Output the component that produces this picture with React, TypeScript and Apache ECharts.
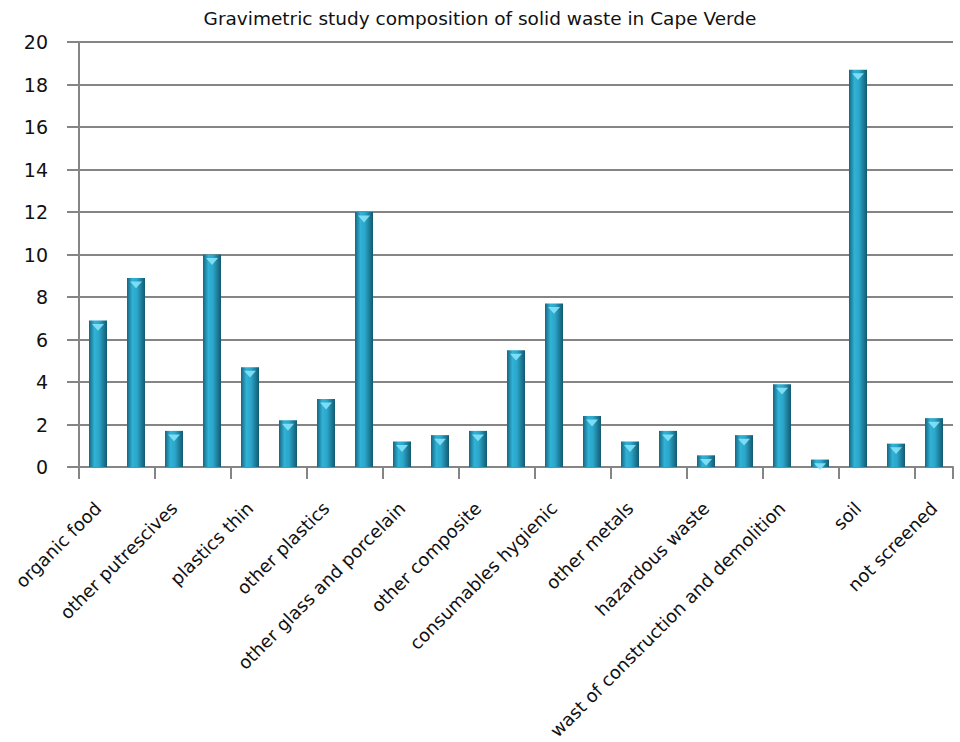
import React, { useEffect, useRef } from "react";
import * as echarts from "echarts";

// Waste fractions (every other name is shown on the axis)
const categories: string[] = [
  "organic food",
  "garden waste",
  "other putrescives",
  "paper",
  "plastics thin",
  "plastics thick",
  "other plastics",
  "glass packaging",
  "other glass and porcelain",
  "textiles",
  "other composite",
  "composite packaging",
  "consumables hygienic",
  "ferrous metals",
  "other metals",
  "aluminium",
  "hazardous waste",
  "wood",
  "wast of construction and demolition",
  "rubber",
  "soil",
  "fines",
  "not screened",
];

// Share of the total mass (%)
const shares: number[] = [
  6.9, 8.9, 1.7, 10.0, 4.7, 2.2, 3.2, 12.0, 1.2, 1.5, 1.7, 5.5, 7.7, 2.4, 1.2,
  1.7, 0.55, 1.5, 3.9, 0.35, 18.7, 1.1, 2.3,
];

const yTicks = { min: 0, max: 20, interval: 2 };

const titleText = "Gravimetric study composition of solid waste in Cape Verde";

const FONT = "DejaVu Sans";
const GRID_GRAY = "#858585";

export default function App() {
  const ref = useRef<HTMLDivElement>(null);

  useEffect(() => {
    if (!ref.current) return;
    const chart = echarts.init(ref.current, undefined, { renderer: "svg" });

    const barFill = new echarts.graphic.LinearGradient(0, 0, 1, 0, [
      { offset: 0, color: "#17657e" },
      { offset: 0.3, color: "#30b2d6" },
      { offset: 0.55, color: "#2ba7ca" },
      { offset: 1, color: "#125a70" },
    ]);

    chart.setOption({
      animation: false,
      backgroundColor: "#ffffff",
      textStyle: { fontFamily: FONT },
      title: {
        text: titleText,
        left: "center",
        top: 4,
        textStyle: {
          fontFamily: FONT,
          fontSize: 18.5,
          fontWeight: "normal",
          color: "#111",
        },
      },
      grid: {
        left: 79,
        right: 7,
        top: 42,
        bottom: 275,
        containLabel: false,
        outerBoundsMode: "none",
      },
      xAxis: {
        type: "category",
        data: categories,
        axisLine: { lineStyle: { color: GRID_GRAY, width: 2 } },
        axisTick: {
          show: true,
          length: 12,
          lineStyle: { color: GRID_GRAY, width: 2 },
        },
        axisLabel: {
          interval: 1,
          rotate: 45,
          margin: 38,
          fontFamily: FONT,
          fontSize: 18,
          color: "#111",
        },
      },
      yAxis: {
        type: "value",
        min: yTicks.min,
        max: yTicks.max,
        interval: yTicks.interval,
        axisLine: { show: true, lineStyle: { color: GRID_GRAY, width: 2 } },
        axisTick: {
          show: true,
          length: 12,
          lineStyle: { color: GRID_GRAY, width: 2 },
        },
        axisLabel: {
          margin: 31,
          fontFamily: FONT,
          fontSize: 19,
          color: "#111",
        },
        splitLine: { lineStyle: { color: GRID_GRAY, width: 2 } },
      },
      series: [
        {
          type: "bar",
          data: shares,
          barWidth: 18,
          itemStyle: { color: barFill },
          z: 2,
        },
        {
          // light cap on top of each cylinder
          type: "pictorialBar",
          data: shares,
          symbol: "triangle",
          symbolRotate: 180,
          symbolSize: [12, 7],
          symbolPosition: "end",
          symbolOffset: [0, "50%"],
          itemStyle: { color: "#86e2f7", opacity: 0.9 },
          barGap: "-100%",
          z: 3,
          silent: true,
        },
      ],
    });

    return () => chart.dispose();
  }, []);

  return (
    <div
      ref={ref}
      style={{ position: "absolute", left: 0, top: 0, width: 960, height: 742 }}
    />
  );
}
